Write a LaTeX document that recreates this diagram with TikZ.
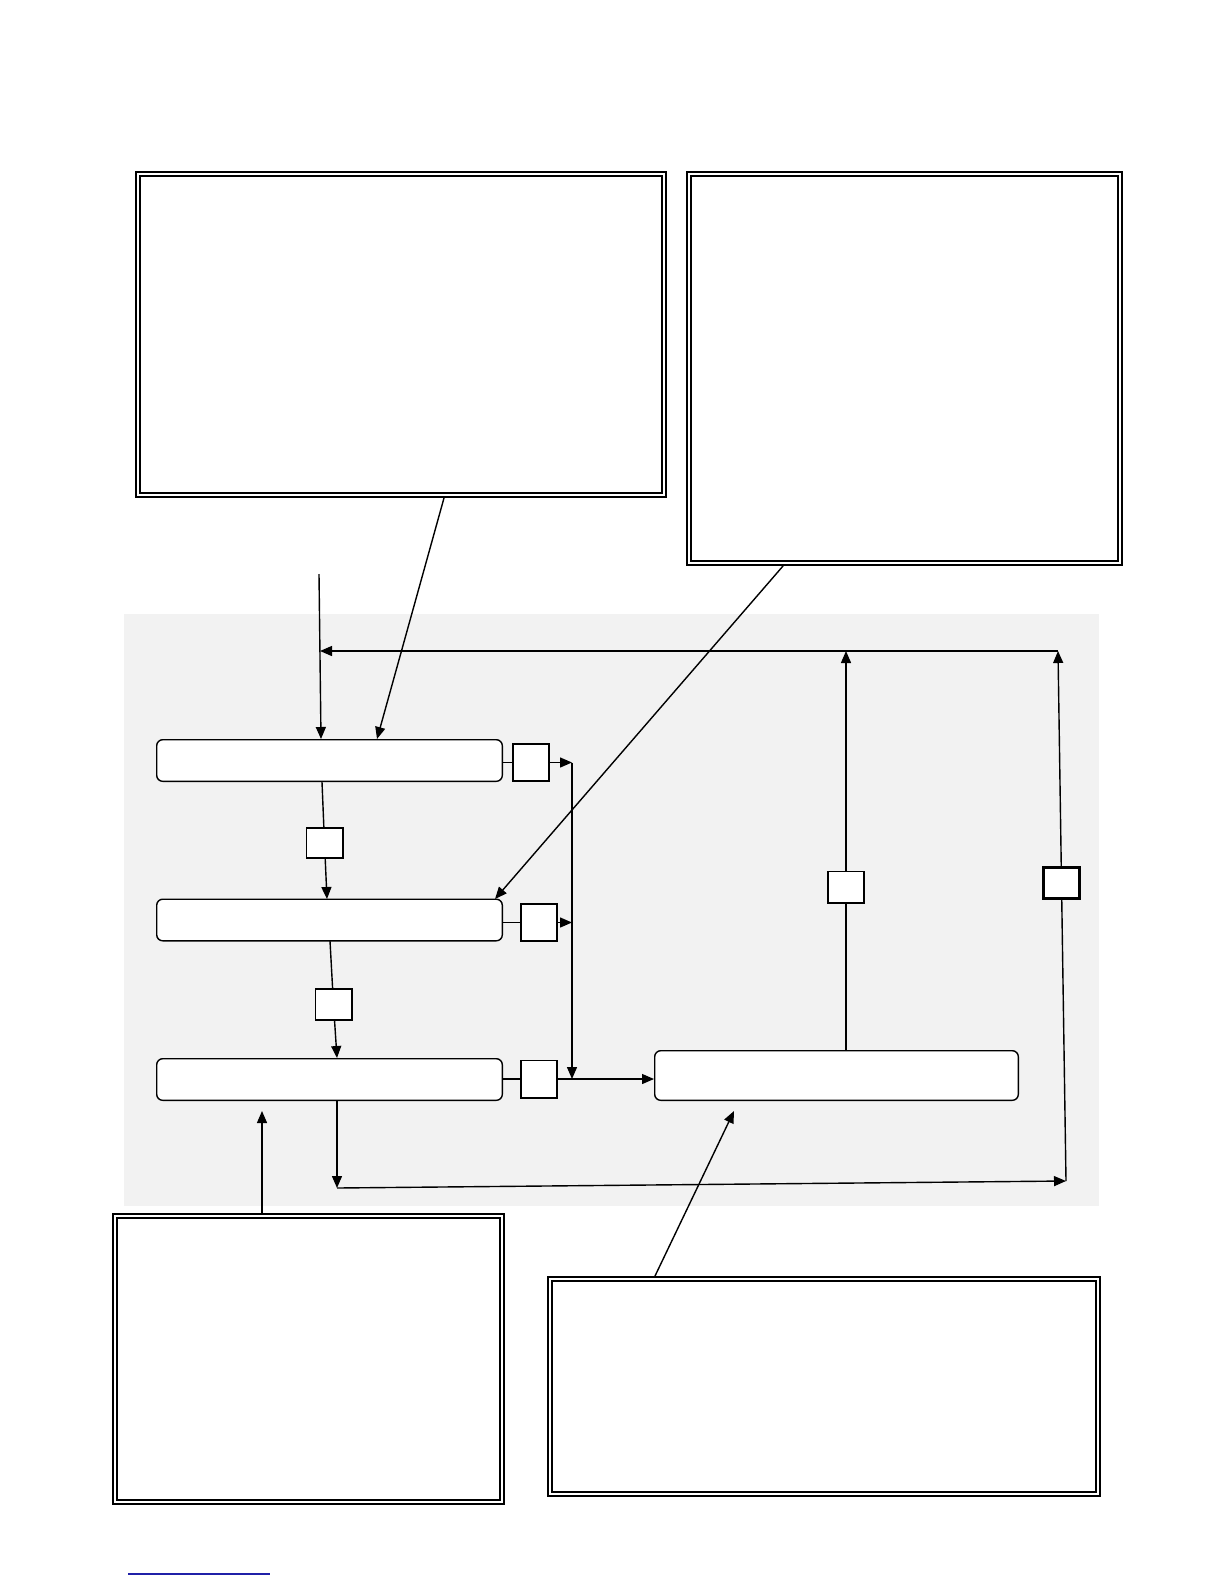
\documentclass[tikz,border=0pt]{standalone}
\usetikzlibrary{arrows.meta}
\definecolor{panel}{HTML}{F2F2F2}
\definecolor{linkblue}{HTML}{2020A8}
\begin{document}
\begin{tikzpicture}[
    x=0.5pt, y=-0.5pt,
    note/.style={rectangle, draw=black, double=white, line width=1pt,
                 double distance=0.9pt, fill=white, inner sep=0pt},
    stage/.style={rectangle, rounded corners=3pt, draw=black,
                  line width=0.7pt, fill=white, minimum width=172.8pt,
                  minimum height=20.8pt, inner sep=0pt},
    gate/.style={rectangle, draw=black, line width=0.9pt, fill=white,
                 minimum width=18.1pt, inner sep=0pt},
    arr/.style={-{Triangle[length=6pt,width=5pt]}, line width=0.7pt},
    wire/.style={line width=0.7pt}
  ]
  \useasboundingbox (0,0) rectangle (1224,1584);
  \fill[panel] (124,614) rectangle (1099,1206);

  \node[note, minimum width=263pt, minimum height=160.5pt] (tlnote) at (401,334.5) {};
  \node[note, minimum width=215.5pt, minimum height=194.5pt] (trnote) at (904.5,368.5) {};
  \node[note, minimum width=193.5pt, minimum height=143pt] (blnote) at (308.5,1359) {};
  \node[note, minimum width=274pt, minimum height=107.5pt] (brnote) at (824,1386.5) {};

  \node[stage] (stageA) at (329.5,760.5) {};
  \node[stage] (stageB) at (329.5,920) {};
  \node[stage] (stageC) at (329.5,1079.5) {};
  \node[stage, minimum width=181.8pt, minimum height=24.8pt] (sink) at (836.5,1075.5) {};

  \node[gate, minimum height=18.6pt] (gA) at (531,762.5) {};
  \node[gate, minimum height=18.6pt] (gB) at (539,922.5) {};
  \node[gate, minimum height=18.6pt] (gC) at (539,1079) {};
  \node[gate, minimum height=15.1pt] (gD) at (324.5,843) {};
  \node[gate, minimum height=15.6pt] (gE) at (333.5,1004.5) {};
  \node[gate, minimum height=15.6pt] (gF) at (846,887) {};
  \node[gate, line width=1.3pt, minimum height=15.3pt] (gG) at (1061.5,883) {};

  \coordinate (in)   at (319,574);
  \coordinate (aIn)  at (321,739);
  \coordinate (aTop) at (377,739);
  \coordinate (aOut) at (322,782);
  \coordinate (bIn)  at (327,899);
  \coordinate (bTop) at (495,899);
  \coordinate (bOut) at (330,941);
  \coordinate (cIn)  at (337,1058);
  \coordinate (cOut) at (337,1101);
  \coordinate (jA)   at (572,762.5);
  \coordinate (jB)   at (572,922.5);
  \coordinate (jC)   at (572,1079);
  \coordinate (fb)   at (320,651);
  \coordinate (rt)   at (1058,651);
  \coordinate (rb)   at (1066,1181);
  \coordinate (lb)   at (337,1188);
  \coordinate (tlfoot) at (444,498);
  \coordinate (trfoot) at (783,566);
  \coordinate (blhead) at (262,1213);
  \coordinate (bltip)  at (262,1111);
  \coordinate (brhead) at (655,1276);
  \coordinate (brtip)  at (734,1111);

  \draw[arr] (in) -- (aIn);
  \draw[arr] (tlfoot) -- (aTop);
  \draw[arr] (trfoot) -- (bTop);
  \draw[wire] (aOut) -- (gD);
  \draw[arr] (gD) -- (bIn);
  \draw[wire] (bOut) -- (gE);
  \draw[arr] (gE) -- (cIn);
  \draw[wire] (stageA.east |- gA) -- (gA);
  \draw[arr] (gA) -- (jA);
  \draw[wire] (stageB.east |- gB) -- (gB);
  \draw[arr] (gB) -- (jB);
  \draw[arr] (jA) -- (jC);
  \draw[wire] (stageC.east |- gC) -- (gC);
  \draw[arr] (gC) -- (sink.west |- gC);
  \draw[wire] (sink.north -| gF) -- (gF);
  \draw[arr] (gF) -- (gF |- rt);
  \draw[arr] (rt) -- (fb);
  \draw[arr] (cOut) -- (lb);
  \draw[arr] (lb) -- (rb);
  \draw[wire] (rb) -- (gG);
  \draw[arr] (gG) -- (rt);
  \draw[arr] (blhead) -- (bltip);
  \draw[arr] (brhead) -- (brtip);

  \draw[linkblue, line width=0.6pt] (128,1574) -- (270,1574);
\end{tikzpicture}
\end{document}
